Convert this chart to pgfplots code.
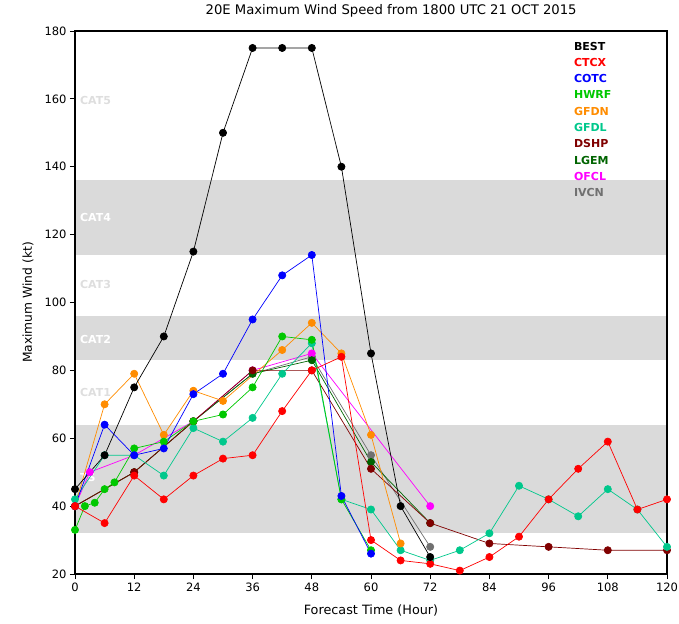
\documentclass[border=0pt]{standalone}
\usepackage{fontspec}
\setmainfont{DejaVu Sans}
\usepackage{pgfplots}
\pgfplotsset{compat=1.18}
\definecolor{cbest}{RGB}{0,0,0}
\definecolor{cctcx}{RGB}{255,0,0}
\definecolor{ccotc}{RGB}{0,0,255}
\definecolor{chwrf}{RGB}{0,200,0}
\definecolor{cgfdn}{RGB}{255,140,0}
\definecolor{cgfdl}{RGB}{0,200,140}
\definecolor{cdshp}{RGB}{128,0,0}
\definecolor{clgem}{RGB}{0,100,0}
\definecolor{cofcl}{RGB}{255,0,255}
\definecolor{civcn}{RGB}{112,112,112}
\definecolor{band}{RGB}{218,218,218}
\definecolor{catlight}{RGB}{222,222,222}
\begin{document}
\begin{tikzpicture}
\begin{axis}[
  set layers,
  scale only axis, width=592pt, height=543pt,
  xmin=0, xmax=120, ymin=20, ymax=180,
  xtick={0,12,...,120}, ytick={20,40,...,180},
  tick align=outside, tick pos=left, major tick length=5pt,
  axis line style={line width=1.4pt},
  tick style={line width=0.8pt, black},
  ticklabel style={font=\fontsize{11.5}{12}\selectfont},
  /pgf/number format/assume math mode=true,
  title={20E Maximum Wind Speed from 1800 UTC 21 OCT 2015},
  title style={at={(axis description cs:0.534,1.0258)}, anchor=center, font=\fontsize{13.2}{15}\selectfont},
  xlabel={Forecast Time (Hour)},
  xlabel style={at={(axis description cs:0.5,-0.068)}, anchor=center, font=\fontsize{12.8}{14}\selectfont},
  ylabel={Maximum Wind (kt)},
  ylabel style={at={(axis description cs:-0.0794,0.5)}, anchor=center, font=\fontsize{12.3}{14}\selectfont},
  every axis plot/.append style={line width=0.7pt, mark=*, mark size=3.6pt},
  reverse legend,
  legend image code/.code={},
  legend cell align=left,
  legend style={draw=none, fill=none, at={(axis description cs:0.843,0.9797)}, anchor=north west,
    inner sep=0pt, outer sep=0pt, row sep=8.3pt,
    font=\bfseries\fontsize{11}{11}\selectfont,
    nodes={inner sep=0pt, text height=8pt, text depth=0pt},
    /tikz/every odd column/.style={column sep=0pt},
    /tikz/every even column/.style={column sep=0pt}},
]
% intensity bands
\addplot[draw=none, fill=band, mark=none, forget plot, on layer=axis background] coordinates {(0,32) (120,32) (120,64) (0,64)};
\addplot[draw=none, fill=band, mark=none, forget plot, on layer=axis background] coordinates {(0,83) (120,83) (120,96) (0,96)};
\addplot[draw=none, fill=band, mark=none, forget plot, on layer=axis background] coordinates {(0,114) (120,114) (120,136) (0,136)};
\node[anchor=west, inner sep=0pt, text=catlight, font=\bfseries\fontsize{11}{11}\selectfont] at (axis cs:1,159.4) {CAT5};
\node[anchor=west, inner sep=0pt, text=white, font=\bfseries\fontsize{11}{11}\selectfont] at (axis cs:1,124.9) {CAT4};
\node[anchor=west, inner sep=0pt, text=catlight, font=\bfseries\fontsize{11}{11}\selectfont] at (axis cs:1,105.2) {CAT3};
\node[anchor=west, inner sep=0pt, text=white, font=\bfseries\fontsize{11}{11}\selectfont] at (axis cs:1,89.2) {CAT2};
\node[anchor=west, inner sep=0pt, text=catlight, font=\bfseries\fontsize{11}{11}\selectfont] at (axis cs:1,73.6) {CAT1};
\node[anchor=west, inner sep=0pt, text=white, font=\bfseries\fontsize{11}{11}\selectfont] at (axis cs:1,48.3) {TS};
% series (drawn in reverse order so BEST is on top)
\addplot[color=civcn] coordinates {(0,40) (12,50) (24,65) (36,79) (48,84) (60,55) (72,28)};
\addlegendentry{\textcolor{civcn}{IVCN}}
\addplot[color=cofcl] coordinates {(0,40) (3,50) (12,55) (24,65) (36,80) (48,85) (72,40)};
\addlegendentry{\textcolor{cofcl}{OFCL}}
\addplot[color=clgem] coordinates {(0,40) (12,50) (24,65) (36,79) (48,83) (60,53) (72,35)};
\addlegendentry{\textcolor{clgem}{LGEM}}
\addplot[color=cdshp] coordinates {(0,40) (12,50) (24,65) (36,80) (48,80) (60,51) (72,35) (84,29) (96,28) (108,27) (120,27)};
\addlegendentry{\textcolor{cdshp}{DSHP}}
\addplot[color=cgfdl] coordinates {(0,42) (6,55) (12,55) (18,49) (24,63) (30,59) (36,66) (42,79) (48,88) (54,42) (60,39) (66,27) (72,24) (78,27) (84,32) (90,46) (96,42) (102,37) (108,45) (114,39) (120,28)};
\addlegendentry{\textcolor{cgfdl}{GFDL}}
\addplot[color=cgfdn] coordinates {(0,40) (6,70) (12,79) (18,61) (24,74) (30,71) (42,86) (48,94) (54,85) (60,61) (66,29)};
\addlegendentry{\textcolor{cgfdn}{GFDN}}
\addplot[color=chwrf] coordinates {(0,33) (2,40) (4,41) (6,45) (8,47) (12,57) (18,59) (24,65) (30,67) (36,75) (42,90) (48,89) (54,42) (60,27)};
\addlegendentry{\textcolor{chwrf}{HWRF}}
\addplot[color=ccotc] coordinates {(0,40) (6,64) (12,55) (18,57) (24,73) (30,79) (36,95) (42,108) (48,114) (54,43) (60,26)};
\addlegendentry{\textcolor{ccotc}{COTC}}
\addplot[color=cctcx] coordinates {(0,40) (6,35) (12,49) (18,42) (24,49) (30,54) (36,55) (42,68) (48,80) (54,84) (60,30) (66,24) (72,23) (78,21) (84,25) (90,31) (96,42) (102,51) (108,59) (114,39) (120,42)};
\addlegendentry{\textcolor{cctcx}{CTCX}}
\addplot[color=cbest] coordinates {(0,45) (6,55) (12,75) (18,90) (24,115) (30,150) (36,175) (42,175) (48,175) (54,140) (60,85) (66,40) (72,25)};
\addlegendentry{\textcolor{cbest}{BEST}}
\end{axis}
\pgfresetboundingbox
\useasboundingbox (-75pt,-49pt) rectangle (604pt,574pt);
\end{tikzpicture}
\end{document}
